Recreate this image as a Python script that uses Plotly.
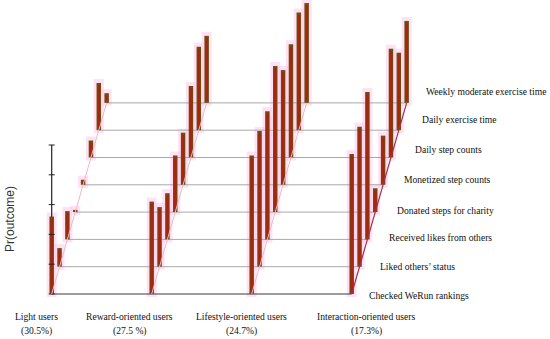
import plotly.graph_objects as go

# ---------------- data ----------------
categories = [
    "Checked WeRun rankings",
    "Liked others’ status",
    "Received likes from others",
    "Donated steps for charity",
    "Monetized step counts",
    "Daily step counts",
    "Daily exercise time",
    "Weekly moderate exercise time",
]
groups = ["Light users", "Reward-oriented users", "Lifestyle-oriented users", "Interaction-oriented users"]
shares = ["(30.5%)", "(27.5 %)", "(24.7%)", "(17.3%)"]

light = [0.52, 0.125, 0.19, 0.015, 0.034, 0.114, 0.317, 0.065]
reward = [0.62, 0.40, 0.31, 0.38, 0.35, 0.48, 0.56, 0.45]
lifestyle = [0.93, 0.91, 0.86, 0.98, 0.77, 0.76, 0.79, 0.67]
interaction = [0.94, 0.94, 0.99, 0.16, 0.33, 0.73, 0.52, 0.55]
series = [light, reward, lifestyle, interaction]

axis_ticks = [0, 0.2, 0.4, 0.6, 0.8, 1.0]

# ---------------- pseudo-3D projection (layout constants) ----------------
X0 = 51.7          # x of first bar of first group
GROUP_GAP = 100.0  # horizontal distance between groups
DX = 7.85          # depth shift in x per category
PX_PER_UNIT = 149.0
DY = 27.3 / PX_PER_UNIT  # depth shift in y (probability units) per category
BASE_PX = 294.0
W, H = 550, 339


def proj(g, i, p=0.0):
    return X0 + g * GROUP_GAP + i * DX, i * DY + p


def ypx(pix):
    return (BASE_PX - pix) / PX_PER_UNIT


n = len(categories)
fig = go.Figure()

# halos
hx, hy = [], []
for g, vals in enumerate(series):
    for i, p in enumerate(vals):
        x, yb = proj(g, i)
        _, yt = proj(g, i, p)
        hx += [x, x, None]
        hy += [yb - 3 / PX_PER_UNIT, yt + 4 / PX_PER_UNIT, None]
fig.add_trace(go.Scatter(x=hx, y=hy, mode="lines",
                         line=dict(color="rgba(255,195,238,0.5)", width=10),
                         hoverinfo="skip", showlegend=False))

# gridlines (depth planes)
gx, gy = [], []
for i in range(1, n):
    xa, ya = proj(0, i)
    xb, yb = proj(len(series) - 1, i)
    gx += [xa, xb, None]
    gy += [ya, yb, None]
fig.add_trace(go.Scatter(x=gx, y=gy, mode="lines",
                         line=dict(color="#A9A9A9", width=1),
                         hoverinfo="skip", showlegend=False))
xa, ya = proj(0, 0)
xb, yb = proj(len(series) - 1, 0)
fig.add_trace(go.Scatter(x=[xa, xb], y=[ya, yb], mode="lines",
                         line=dict(color="#3A3A3A", width=1.2),
                         hoverinfo="skip", showlegend=False))

# probability axis at first group
ax_x, _ = proj(0, 0)
fig.add_trace(go.Scatter(x=[ax_x, ax_x], y=[axis_ticks[0], axis_ticks[-1]], mode="lines",
                         line=dict(color="#222222", width=1.2),
                         hoverinfo="skip", showlegend=False))

# bars: olive outer, red-brown inner
bx, by = [], []
for g, vals in enumerate(series):
    for i, p in enumerate(vals):
        x, yb = proj(g, i)
        _, yt = proj(g, i, p)
        bx += [x, x, None]
        by += [yb, yt, None]
fig.add_trace(go.Scatter(x=bx, y=by, mode="lines",
                         line=dict(color="#6B4E12", width=4.5),
                         hoverinfo="skip", showlegend=False))
ix, iy = [], []
for g, vals in enumerate(series):
    for i, p in enumerate(vals):
        x, yb = proj(g, i)
        _, yt = proj(g, i, p)
        pad = min(2.5 / PX_PER_UNIT, p / 3)
        ix += [x, x, None]
        iy += [yb + pad, yt - pad, None]
fig.add_trace(go.Scatter(x=ix, y=iy, mode="lines",
                         line=dict(color="#A8260C", width=2.5),
                         hoverinfo="skip", showlegend=False))

# axis ticks on top
tx, ty = [], []
for t in axis_ticks:
    tx += [ax_x - 3, ax_x + 3, None]
    ty += [t, t, None]
fig.add_trace(go.Scatter(x=tx, y=ty, mode="lines",
                         line=dict(color="#222222", width=1),
                         hoverinfo="skip", showlegend=False))

# diagonal base lines per group
for g in range(len(series)):
    xa, ya = proj(g, 0)
    xb, yb = proj(g, n - 1)
    col = "#B0284A" if g == len(series) - 1 else "#F2B5C8"
    fig.add_trace(go.Scatter(x=[xa, xb], y=[ya, yb], mode="lines",
                             line=dict(color=col, width=1.2 if g == len(series) - 1 else 1),
                             hoverinfo="skip", showlegend=False))

# ---------------- text ----------------
serif = "Liberation Serif, Times New Roman, serif"
FS = 9.6
ann = []
label_left_x = [367.3, 378.3, 387.3, 395.0, 401.7, 412.7, 420.0, 424.0]
label_y_px = [295.0, 266.7, 237.7, 210.7, 179.3, 149.0, 119.3, 91.7]
for lab, lx, ly in zip(categories, label_left_x, label_y_px):
    ann.append(dict(x=lx, y=ypx(ly), text=lab, xanchor="left", yanchor="middle",
                    showarrow=False, font=dict(family=serif, size=FS, color="#111111")))

group_cx = [36.5, 129.5, 241.5, 366.7]
for gname, sh, cx in zip(groups, shares, group_cx):
    ann.append(dict(x=cx, y=ypx(316), text=gname, xanchor="center", yanchor="middle",
                    showarrow=False, font=dict(family=serif, size=FS, color="#111111")))
    ann.append(dict(x=cx, y=ypx(330.5), text=sh, xanchor="center", yanchor="middle",
                    showarrow=False, font=dict(family=serif, size=FS, color="#111111")))

ann.append(dict(x=10, y=ypx(219), text="Pr(outcome)", textangle=-90, xanchor="center",
                yanchor="middle", showarrow=False,
                font=dict(family="Liberation Sans, Arial, sans-serif", size=12, color="#333333")))

fig.update_layout(
    width=W, height=H,
    margin=dict(l=0, r=0, t=0, b=0),
    paper_bgcolor="white", plot_bgcolor="white",
    xaxis=dict(range=[0, W], visible=False, fixedrange=True),
    yaxis=dict(range=[ypx(H), ypx(0)], visible=False, fixedrange=True),
    annotations=ann,
    showlegend=False,
)

fig.write_html("out.html", config={"displayModeBar": False},
               post_script="document.body.style.margin='0';document.body.style.overflow='hidden';")
